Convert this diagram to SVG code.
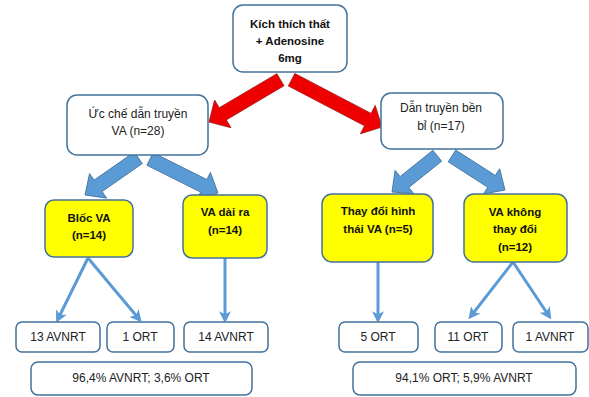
<svg xmlns="http://www.w3.org/2000/svg" width="589" height="397" viewBox="0 0 589 397">
<defs>
<style>
.box{fill:#ffffff;stroke:#41719c;stroke-width:1.5}
.ybox{fill:#ffff00;stroke:#41719c;stroke-width:1.5}
.t{font-family:"Liberation Sans",Arial,sans-serif;font-size:12px;fill:#222;text-anchor:middle}
.b{font-family:"Liberation Sans",Arial,sans-serif;font-size:11.5px;font-weight:bold;fill:#111;text-anchor:middle}
.red{fill:#ee0000;stroke:#a61c1c;stroke-width:0.8}
.blue{fill:#5b9bd5;stroke:#41719c;stroke-width:0.8}
.thin{stroke:#5b9bd5;stroke-width:3;fill:none;marker-end:url(#ah)}
</style>
<marker id="ah" markerWidth="4" markerHeight="4" refX="2.6" refY="2" orient="auto" markerUnits="strokeWidth">
<path d="M0,0 L4,2 L0,4 L1,2 Z" fill="#5b9bd5"/>
</marker>
</defs>
<g id="connectors">
<polygon class="red" transform="translate(209,122) rotate(149.4)" points="0,0 -16,-16 -16,-7 -83,-7 -83,7 -16,7 -16,16"/>
<polygon class="red" transform="translate(382,127) rotate(27.6)" points="0,0 -16,-16 -16,-7 -102,-7 -102,7 -16,7 -16,16"/>
<polygon class="blue" transform="translate(85,195) rotate(145.1)" points="0,0 -16,-15 -16,-7 -65,-7 -65,7 -16,7 -16,15"/>
<polygon class="blue" transform="translate(218,193) rotate(26.6)" points="0,0 -16,-15 -16,-7 -76,-7 -76,7 -16,7 -16,15"/>
<polygon class="blue" transform="translate(392,192) rotate(141.3)" points="0,0 -16,-15 -16,-7 -58,-7 -58,7 -16,7 -16,15"/>
<polygon class="blue" transform="translate(505,190) rotate(32.7)" points="0,0 -16,-15 -16,-7 -63,-7 -63,7 -16,7 -16,15"/>
<line class="thin" x1="88" y1="258" x2="58" y2="319"/>
<line class="thin" x1="88" y1="258" x2="139" y2="319"/>
<line class="thin" x1="225" y1="258" x2="225" y2="319"/>
<line class="thin" x1="378" y1="262" x2="378" y2="319"/>
<line class="thin" x1="513" y1="262" x2="471" y2="316"/>
<line class="thin" x1="513" y1="262" x2="549" y2="316"/>
</g>
<g id="n-top">
<rect class="box" x="233" y="5" width="114" height="67" rx="10"/>
<text class="b" x="290" y="28">Kích thích thất</text>
<text class="b" x="290" y="45">+ Adenosine</text>
<text class="b" x="290" y="62">6mg</text>
</g>
<g id="n-left">
<rect class="box" x="67" y="95" width="141" height="60" rx="10"/>
<text class="t" x="138" y="118">Ức chế dẫn truyền</text>
<text class="t" x="138" y="135">VA (n=28)</text>
</g>
<g id="n-right">
<rect class="box" x="381" y="93" width="122" height="56" rx="10"/>
<text class="t" x="441" y="112">Dẫn truyền bền</text>
<text class="t" x="441" y="130">bỉ (n=17)</text>
</g>
<g id="n-bloc">
<rect class="ybox" x="45" y="200" width="88" height="57" rx="9"/>
<text class="b" x="89" y="222">Blốc VA</text>
<text class="b" x="89" y="239">(n=14)</text>
</g>
<g id="n-dai">
<rect class="ybox" x="183" y="195" width="84" height="63" rx="9"/>
<text class="b" x="225" y="216">VA dài ra</text>
<text class="b" x="225" y="234">(n=14)</text>
</g>
<g id="n-thaydoi">
<rect class="ybox" x="322" y="194" width="111" height="68" rx="10"/>
<text class="b" x="378" y="215">Thay đổi hình</text>
<text class="b" x="378" y="233">thái VA (n=5)</text>
</g>
<g id="n-khong">
<rect class="ybox" x="464" y="194" width="103" height="68" rx="10"/>
<text class="b" x="515" y="216">VA không</text>
<text class="b" x="515" y="233">thay đổi</text>
<text class="b" x="515" y="251">(n=12)</text>
</g>
<g id="n-13avnrt">
<rect class="box" x="16" y="322" width="84" height="30" rx="6"/>
<text class="t" x="58" y="341">13 AVNRT</text>
</g>
<g id="n-1ort">
<rect class="box" x="107" y="322" width="67" height="30" rx="6"/>
<text class="t" x="140" y="341">1 ORT</text>
</g>
<g id="n-14avnrt">
<rect class="box" x="184" y="322" width="84" height="30" rx="6"/>
<text class="t" x="226" y="341">14 AVNRT</text>
</g>
<g id="n-sum-left">
<rect class="box" x="31" y="362" width="221" height="33" rx="7"/>
<text class="t" x="141" y="382">96,4% AVNRT; 3,6% ORT</text>
</g>
<g id="n-5ort">
<rect class="box" x="339" y="322" width="79" height="30" rx="6"/>
<text class="t" x="378" y="341">5 ORT</text>
</g>
<g id="n-11ort">
<rect class="box" x="435" y="322" width="67" height="30" rx="6"/>
<text class="t" x="468" y="341">11 ORT</text>
</g>
<g id="n-1avnrt">
<rect class="box" x="513" y="322" width="75" height="30" rx="6"/>
<text class="t" x="550" y="341">1 AVNRT</text>
</g>
<g id="n-sum-right">
<rect class="box" x="353" y="362" width="223" height="33" rx="7"/>
<text class="t" x="464" y="382">94,1% ORT; 5,9% AVNRT</text>
</g>
</svg>
